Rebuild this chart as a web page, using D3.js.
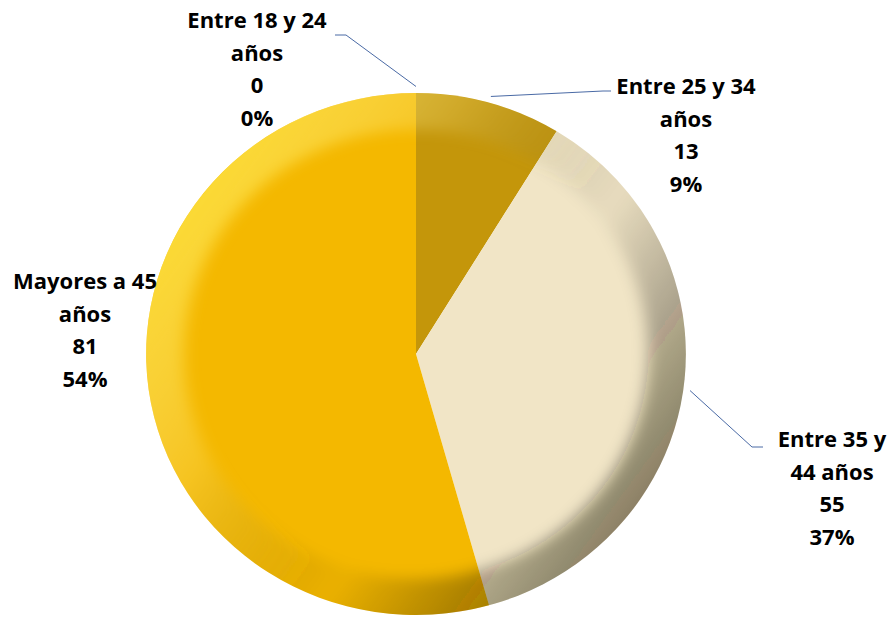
<!DOCTYPE html>
<html>
<head>
<meta charset="utf-8">
<script src="https://cdnjs.cloudflare.com/ajax/libs/d3/7.8.5/d3.min.js"></script>
<style>
  body { margin: 0; background: #fff; }
  text { font-family: "Open Sans", sans-serif; font-weight: bold; font-size: 22px; fill: #000; }
</style>
</head>
<body>
<svg width="889" height="621"></svg>
<script>
const categories = ['Entre 18 y 24 años', 'Entre 25 y 34 años', 'Entre 35 y 44 años', 'Mayores a 45 años'];
const values = [0, 13, 55, 81];
const percents = ['0%', '9%', '37%', '54%'];
// label lines as they wrap in the chart
const labelLines = [
    ['Entre 18 y 24', 'años'],
    ['Entre 25 y 34', 'años'],
    ['Entre 35 y', '44 años'],
    ['Mayores a 45', 'años']
];
const colors = ['#c4960a', '#c4960a', '#f1e5c6', '#f4b800'];

const width = 889;
const height = 621;
const cx = 416, cy = 354;
const radius = 261;
const sx = 1.034; // pie is a bit wider than tall

const svg = d3.select('svg');
const defs = svg.append('defs');

// bevel: light on upper left, dark on lower right
const bevel = defs.append('linearGradient')
    .attr('id', 'bevel')
    .attr('x1', '0.1').attr('y1', '0.2')
    .attr('x2', '0.95').attr('y2', '0.8');
bevel.append('stop').attr('offset', '0').attr('stop-color', '#ffe840').attr('stop-opacity', 0.75);
bevel.append('stop').attr('offset', '0.3').attr('stop-color', '#fff3a0').attr('stop-opacity', 0.2);
bevel.append('stop').attr('offset', '0.6').attr('stop-color', '#000').attr('stop-opacity', 0.04);
bevel.append('stop').attr('offset', '1').attr('stop-color', '#2a2410').attr('stop-opacity', 0.6);

const blur = defs.append('filter').attr('id', 'blur')
    .attr('x', '-10%').attr('y', '-10%').attr('width', '120%').attr('height', '120%');
blur.append('feGaussianBlur').attr('stdDeviation', 7);

defs.append('clipPath').attr('id', 'clip')
    .append('circle').attr('r', radius);

const pie = d3.pie().sort(null).value(d => d);
const arcs = pie(values);

const arc = d3.arc().innerRadius(0).outerRadius(radius);

const g = svg.append('g')
    .attr('transform', 'translate(' + cx + ',' + cy + ') scale(' + sx + ',1)');

g.selectAll('path.slice')
    .data(arcs)
    .enter()
    .append('path')
    .attr('class', 'slice')
    .attr('d', arc)
    .attr('fill', (d, i) => colors[i]);

const rim = g.append('g').attr('clip-path', 'url(#clip)');
rim.append('path')
    .attr('d', d3.arc().innerRadius(radius * 0.86).outerRadius(radius * 1.1)({ startAngle: 0, endAngle: 2 * Math.PI }))
    .attr('fill', 'url(#bevel)')
    .attr('filter', 'url(#blur)');

// leader lines and labels
const labelPos = [
    { x: 257, y: 28, line: [[335, 35], [346, 35]] },
    { x: 686, y: 94, line: [[611, 91], [603, 91]] },
    { x: 832, y: 447, line: [[763, 447], [752, 447]] },
    { x: 85, y: 289, line: null }
];
const lineH = 32.5;

arcs.forEach((d, i) => {
    const p = labelPos[i];
    if (p.line) {
        const mid = (d.startAngle + d.endAngle) / 2;
        const r = radius * 1.025;
        const sxp = cx + Math.sin(mid) * r * sx;
        const syp = cy - Math.cos(mid) * r;
        const pts = [p.line[0], p.line[1], [sxp, syp]];
        svg.append('path')
            .attr('d', d3.line()(pts))
            .attr('fill', 'none')
            .attr('stroke', '#4a6aa5')
            .attr('stroke-width', 1);
    }
    const lines = labelLines[i].concat([String(values[i]), percents[i]]);
    const t = svg.append('text')
        .attr('text-anchor', 'middle');
    lines.forEach((s, k) => {
        t.append('tspan')
            .attr('x', p.x)
            .attr('y', p.y + k * lineH)
            .text(s);
    });
});
</script>
</body>
</html>
